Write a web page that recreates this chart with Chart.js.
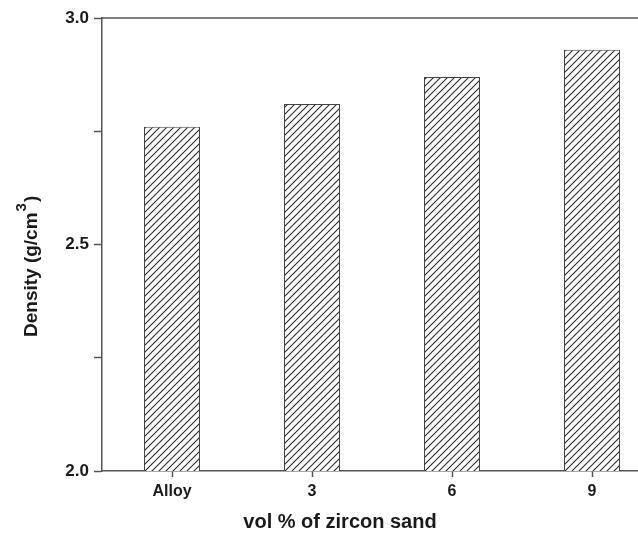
<!DOCTYPE html>
<html>
<head>
<meta charset="utf-8">
<script src="https://cdn.jsdelivr.net/npm/chart.js@4.4.1/dist/chart.umd.min.js"></script>
<style>
  html, body { margin: 0; padding: 0; background: #fff; overflow: hidden; }
  #wrap { width: 638px; height: 535px; overflow: hidden; }
</style>
</head>
<body>
<div id="wrap"><canvas id="densityChart" width="662" height="535"></canvas></div>
<script>
// data
const categories = ['Alloy', '3', '6', '9'];
const density = [2.76, 2.81, 2.87, 2.93];
const yTicks = [2.0, 2.5, 3.0];

const xTitle = 'vol % of zircon sand';
const yTitle = ['Density (g/cm', '3', ')'];

// diagonal hatch fill
function makeHatch() {
    const c = document.createElement('canvas');
    c.width = 7; c.height = 7;
    const ctx = c.getContext('2d');
    ctx.fillStyle = '#fff';
    ctx.fillRect(0, 0, 7, 7);
    ctx.strokeStyle = '#2a2a2a';
    ctx.lineWidth = 1.1;
    ctx.beginPath();
    ctx.moveTo(-1, 8); ctx.lineTo(8, -1);
    ctx.moveTo(-1, 1); ctx.lineTo(1, -1);
    ctx.moveTo(6, 8); ctx.lineTo(8, 6);
    ctx.stroke();
    return ctx.createPattern(c, 'repeat');
}

const axisColor = '#555';
const textColor = '#1a1a1a';
const fontFamily = 'Liberation Sans, Arial, sans-serif';

// top frame line + axis titles (y title needs a superscript)
const frameAndTitles = {
    id: 'frameAndTitles',
    afterDraw(chart) {
        const { ctx, chartArea } = chart;
        ctx.save();
        ctx.strokeStyle = axisColor;
        ctx.lineWidth = 1.5;
        ctx.beginPath();
        ctx.moveTo(chartArea.left, chartArea.top);
        ctx.lineTo(chartArea.right, chartArea.top);
        ctx.stroke();

        ctx.fillStyle = textColor;
        ctx.font = 'bold 20px ' + fontFamily;
        ctx.textAlign = 'center';
        ctx.textBaseline = 'middle';
        ctx.fillText(xTitle, 340, 522);

        // rotated y title, drawn left to right from its start
        ctx.translate(32, 337);
        ctx.rotate(-Math.PI / 2);
        ctx.textAlign = 'left';
        ctx.font = 'bold 19px ' + fontFamily;
        ctx.fillText(yTitle[0], 0, 0);
        let w = ctx.measureText(yTitle[0]).width;
        ctx.font = 'bold 15px ' + fontFamily;
        ctx.fillText(yTitle[1], w + 1, -10);
        w += ctx.measureText(yTitle[1]).width + 2;
        ctx.font = 'bold 19px ' + fontFamily;
        ctx.fillText(yTitle[2], w, 0);
        ctx.restore();
    }
};

new Chart(document.getElementById('densityChart'), {
    type: 'bar',
    data: {
        labels: categories,
        datasets: [{
            data: density,
            backgroundColor: makeHatch(),
            borderColor: '#444',
            borderWidth: 1,
            barPercentage: 0.4,
            categoryPercentage: 1.0
        }]
    },
    options: {
        responsive: false,
        animation: false,
        layout: { padding: { top: 18, right: 0, bottom: 0, left: 0 } },
        plugins: { legend: { display: false }, tooltip: { enabled: false } },
        scales: {
            x: {
                grid: { display: true, drawOnChartArea: false, offset: false, tickLength: 6, color: axisColor, tickWidth: 1.5 },
                border: { display: true, color: axisColor, width: 1.5 },
                ticks: { color: textColor, font: { family: fontFamily, size: 16, weight: 'bold' }, padding: 5 },
                afterFit(scale) { scale.height = 64; }
            },
            y: {
                min: 2.0,
                max: 3.0,
                grid: { display: true, drawOnChartArea: false, tickLength: 8, color: axisColor, tickWidth: 1.5 },
                border: { display: true, color: axisColor, width: 1.5 },
                ticks: {
                    stepSize: 0.25,
                    color: textColor,
                    padding: 5,
                    font: { family: fontFamily, size: 17, weight: 'bold' },
                    callback: (v) => yTicks.some(t => Math.abs(t - v) < 1e-6) ? v.toFixed(1) : ''
                },
                afterFit(scale) { scale.width = 102; }
            }
        }
    },
    plugins: [frameAndTitles]
});
</script>
</body>
</html>
